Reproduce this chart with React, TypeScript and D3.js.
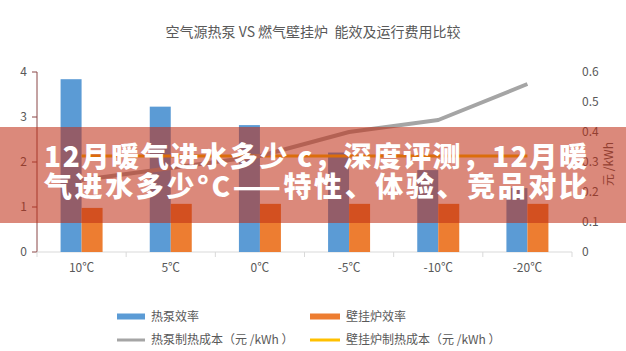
import React from 'react'
import * as d3 from 'd3'

// chart data
const categories = ['10℃', '5℃', '0℃', '-5℃', '-10℃', '-20℃']
const heatPumpEff = [3.84, 3.23, 2.82, 2.21, 1.82, 1.42]
const boilerEff = [0.98, 1.07, 1.07, 1.07, 1.07, 1.07]
const heatPumpCost = [0.24, 0.28, 0.32, 0.4, 0.44, 0.56]
const boilerCost = [0.32, 0.32, 0.32, 0.32, 0.32, 0.32]
const leftTicks = [0, 1, 2, 3, 4]
const rightTicks = [0, 0.1, 0.2, 0.3, 0.4, 0.5, 0.6]

const title = '空气源热泵 VS 燃气壁挂炉  能效及运行费用比较'
const bannerLines = ['12月暖气进水多少 c，深度评测，12月暖', '气进水多少°C——特性、体验、竞品对比']

const width = 626
const height = 351
const left = 37
const right = 572
const top = 72
const bottom = 252

const gray = '#595959'
const font = '"Noto Sans CJK SC", "Open Sans", sans-serif'

export default function App() {
  const x = d3.scaleBand<string>().domain(categories).range([left, right])
  const inner = d3.scaleBand<string>().domain(['hp', 'gb']).range([-21, 21])
  const yL = d3.scaleLinear().domain([0, 4]).range([bottom, top])
  const yR = d3.scaleLinear().domain([0, 0.6]).range([bottom, top])
  const center = (c: string) => (x(c) as number) + x.bandwidth() / 2

  const line = d3
    .line<number>()
    .x((_, i) => center(categories[i]))
    .y(d => yR(d))

  const boundaries = categories.map(c => x(c) as number).concat([right])

  return (
    <svg
      width={width}
      height={height}
      style={{ position: 'absolute', left: 0, top: 0, background: '#fff' }}
      fontFamily={font}
    >
      <rect width={width} height={height} fill="#fff" />
      <text x={313} y={37} textAnchor="middle" fontSize={14} fill={gray} style={{ whiteSpace: 'pre' }}>
        {title}
      </text>

      {/* left axis */}
      <line x1={left} x2={left} y1={top} y2={bottom} stroke="#8a4646" />
      {leftTicks.map(t => (
        <g key={t}>
          <line x1={left - 5} x2={left} y1={yL(t)} y2={yL(t)} stroke="#8a4646" />
          <text x={27} y={yL(t)} dy="0.35em" textAnchor="end" fontSize={12} fill={gray}>
            {t}
          </text>
        </g>
      ))}

      {/* right axis labels */}
      {rightTicks.map(t => (
        <text key={t} x={582} y={yR(t)} dy="0.35em" fontSize={12} fill={gray}>
          {t === 0 ? '0' : t.toFixed(1)}
        </text>
      ))}
      <text
        transform={`translate(609,164) rotate(-90)`}
        textAnchor="middle"
        fontSize={12}
        fill={gray}
        dy="0.35em"
        style={{ whiteSpace: 'pre' }}
      >
        元 /kWh
      </text>

      {/* x axis */}
      <line x1={left} x2={right} y1={bottom} y2={bottom} stroke="#d9d9d9" />
      {boundaries.map((b, i) => (
        <line key={i} x1={b} x2={b} y1={bottom} y2={bottom + 5} stroke="#d9d9d9" />
      ))}
      {categories.map(c => (
        <text key={c} x={center(c)} y={268} dy="0.35em" textAnchor="middle" fontSize={12} fill={gray}>
          {c}
        </text>
      ))}

      {/* bars */}
      {categories.map((c, i) => (
        <g key={c}>
          <rect
            x={center(c) + (inner('hp') as number)}
            y={yL(heatPumpEff[i])}
            width={inner.bandwidth()}
            height={bottom - yL(heatPumpEff[i])}
            fill="#5b9bd5"
          />
          <rect
            x={center(c) + (inner('gb') as number)}
            y={yL(boilerEff[i])}
            width={inner.bandwidth()}
            height={bottom - yL(boilerEff[i])}
            fill="#ed7d31"
          />
        </g>
      ))}

      {/* cost lines */}
      <path d={line(boilerCost) || ''} fill="none" stroke="#ffc000" strokeWidth={3} />
      <path d={line(heatPumpCost) || ''} fill="none" stroke="#a5a5a5" strokeWidth={4} strokeLinejoin="round" />

      {/* legend */}
      <rect x={117} y={313.5} width={28} height={6} fill="#5b9bd5" />
      <text x={151} y={317} dy="0.35em" fontSize={12} fill={gray}>热泵效率</text>
      <rect x={310} y={313.5} width={30} height={6} fill="#ed7d31" />
      <text x={346} y={317} dy="0.35em" fontSize={12} fill={gray}>壁挂炉效率</text>
      <line x1={117} x2={145} y1={340} y2={340} stroke="#a5a5a5" strokeWidth={3} />
      <text x={151} y={340} dy="0.35em" fontSize={12} fill={gray} style={{ whiteSpace: 'pre' }}>热泵制热成本（元 /kWh ）</text>
      <line x1={310} x2={340} y1={340} y2={340} stroke="#ffc000" strokeWidth={3} />
      <text x={346} y={340} dy="0.35em" fontSize={12} fill={gray} style={{ whiteSpace: 'pre' }}>壁挂炉制热成本（元 /kWh ）</text>

      {/* banner overlay */}
      <rect x={0} y={127} width={width} height={96} fill="rgb(190,45,20)" fillOpacity={0.56} />
      {bannerLines.map((t, i) => (
        <text
          key={i}
          x={44}
          y={167 + i * 30}
          fontSize={28}
          fontWeight={900}
          fill="#fff"
          textLength={543}
          lengthAdjust="spacing"
        >
          {t}
        </text>
      ))}
    </svg>
  )
}
